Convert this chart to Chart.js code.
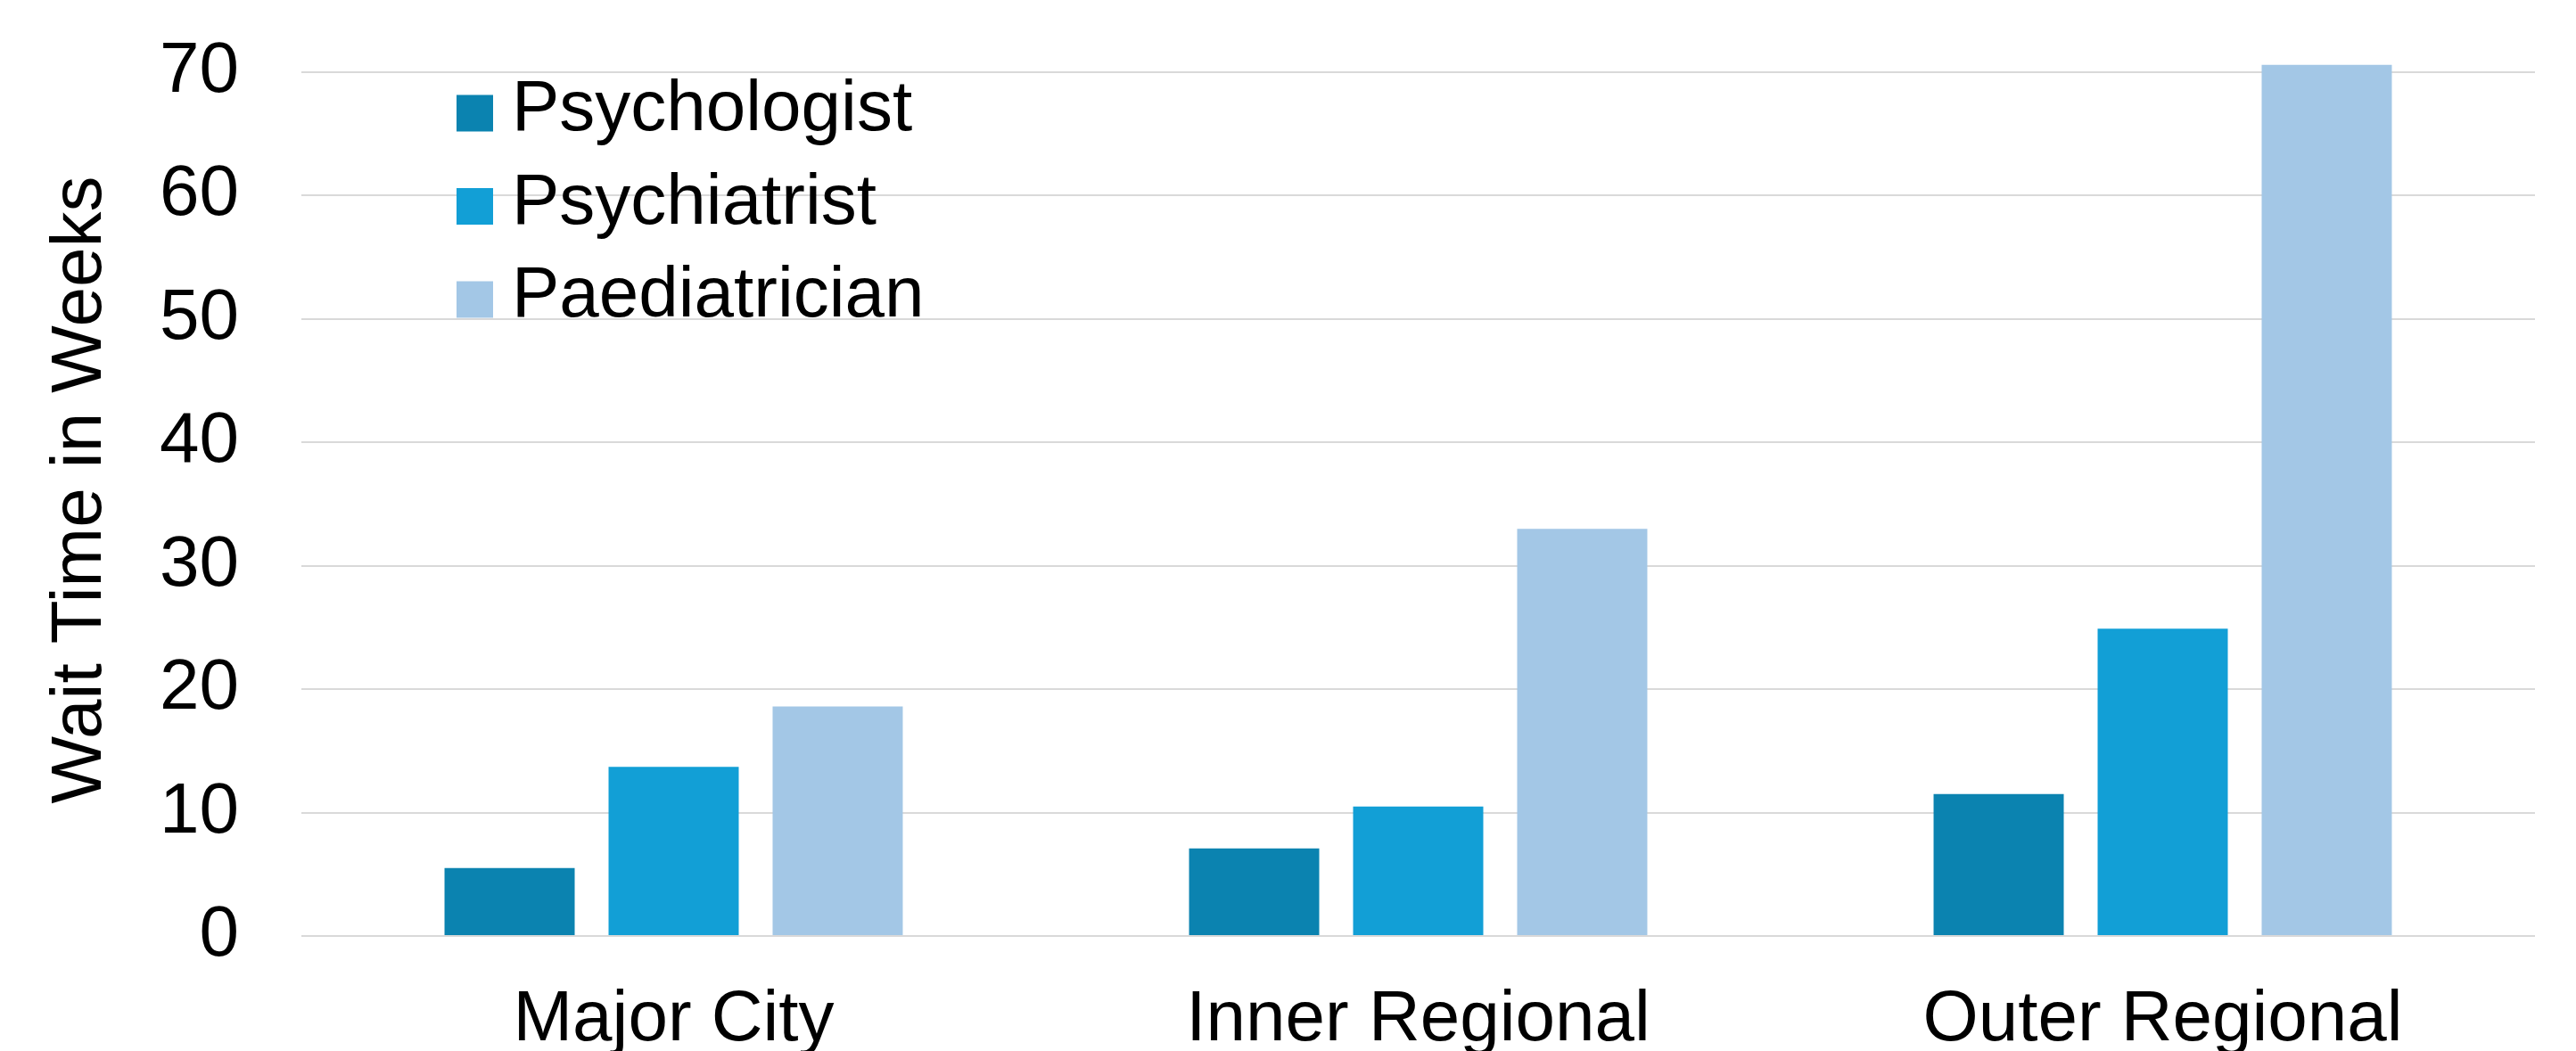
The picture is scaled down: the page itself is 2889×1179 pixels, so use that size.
<!DOCTYPE html>
<html>
<head>
<meta charset="utf-8">
<script src="https://cdn.jsdelivr.net/npm/chart.js@4/dist/chart.umd.min.js"></script>
<style>
  html, body { margin: 0; padding: 0; background: #ffffff; }
  #wrap { width: 2889px; height: 1179px; position: relative; }
</style>
</head>
<body>
<div id="wrap"><canvas id="c" width="2889" height="1179"></canvas></div>
<script>
// ---- Data ----
const categories = ["Major City", "Inner Regional", "Outer Regional"];
const seriesNames = ["Psychologist", "Psychiatrist", "Paediatrician"];
const psychologist = [5.5, 7.1, 11.5];
const psychiatrist = [13.7, 10.5, 24.9];
const paediatrician = [18.6, 33.0, 70.6];
const yTicks = [0, 10, 20, 30, 40, 50, 60, 70];
const yTitle = "Wait Time in Weeks";

// ---- Styles ----
const colors = ["#0B83B0", "#129FD6", "#A3C7E6"];
const FONT = "'Liberation Sans', Arial, sans-serif";

// Legend drawn inside the plot area (top-left), built from dataset labels/colours,
// plus the rotated y-axis title.
const overlayText = {
  id: 'overlayText',
  afterDraw(chart) {
    const ctx = chart.ctx;
    const ca = chart.chartArea;
    const x0 = ca.left + 174;
    const y0 = ca.top + 46;
    const rowH = 104.5;
    const box = 41;
    ctx.save();
    ctx.font = "80px " + FONT;
    ctx.textBaseline = 'middle';
    ctx.textAlign = 'left';
    chart.data.datasets.forEach((ds, i) => {
      const cy = y0 + i * rowH;
      ctx.fillStyle = ds.backgroundColor;
      ctx.fillRect(x0, cy - box / 2, box, box);
      ctx.fillStyle = '#000000';
      ctx.fillText(ds.label, x0 + box + 21, cy - 3);
    });
    // y-axis title
    const yMid = (ca.top + ca.bottom) / 2 - 16;
    ctx.translate(113, yMid);
    ctx.rotate(-Math.PI / 2);
    ctx.textAlign = 'center';
    ctx.textBaseline = 'alphabetic';
    ctx.fillText(yTitle, 0, 0);
    ctx.restore();
  }
};

new Chart(document.getElementById('c'), {
  type: 'bar',
  data: {
    labels: categories,
    datasets: [
      { label: seriesNames[0], data: psychologist, backgroundColor: colors[0] },
      { label: seriesNames[1], data: psychiatrist, backgroundColor: colors[1] },
      { label: seriesNames[2], data: paediatrician, backgroundColor: colors[2] }
    ]
  },
  options: {
    responsive: false,
    animation: false,
    devicePixelRatio: 1,
    layout: { padding: { top: 81, right: 46, bottom: 0, left: 0 } },
    datasets: {
      bar: { categoryPercentage: 0.661, barPercentage: 0.7935, clip: false, borderWidth: 0 }
    },
    plugins: {
      legend: { display: false },
      tooltip: { enabled: false },
      title: { display: false }
    },
    scales: {
      x: {
        grid: { display: false, drawTicks: false },
        border: { display: false },
        ticks: { color: '#000000', font: { family: FONT, size: 80 }, padding: 47 },
        afterFit(scale) { scale.height = 129; }
      },
      y: {
        min: 0,
        max: 70,
        afterBuildTicks(scale) { scale.ticks = yTicks.map(v => ({ value: v })); },
        grid: { color: '#D9D9D9', lineWidth: 2, drawTicks: true, tickLength: 70, tickColor: 'rgba(0,0,0,0)' },
        border: { display: false },
        ticks: { color: '#000000', font: { family: FONT, size: 80 }, padding: 0 },
        title: { display: false, text: yTitle },
        afterFit(scale) { scale.width = 338; }
      }
    }
  },
  plugins: [overlayText]
});
</script>
</body>
</html>
